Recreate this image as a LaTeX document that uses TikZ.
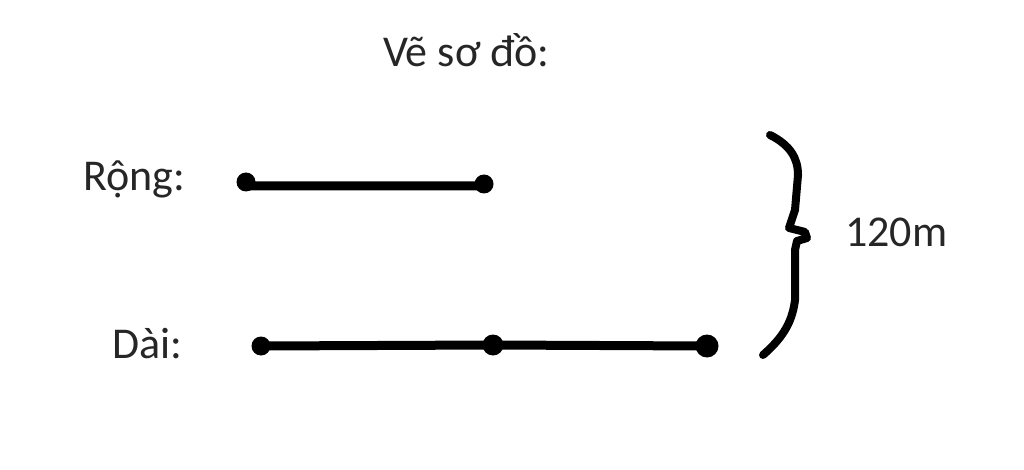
\documentclass[tikz,border=0pt]{standalone}
\usepackage{fontspec}
\setmainfont{Carlito}
\begin{document}
\begin{tikzpicture}[x=1pt,y=-1pt,
  lbl/.style={anchor=base west,inner sep=0pt,font=\fontsize{44}{50}\selectfont,text=black!85},
  seg/.style={line width=9pt},
  dotmark/.style={circle,fill=black,inner sep=0pt,minimum size=#1},
  bracepath/.style={line width=8pt,line cap=round,line join=round}]
\useasboundingbox (0,0) rectangle (1024,470);
\node[lbl] (title) at (383,67) {Vẽ sơ đồ:};
\node[lbl] (rong) at (83,191) {Rộng:};
\node[lbl] (dai) at (112,358) {Dài:};
\node[lbl] (len) at (845,246) {120m};
% Rong segment
\node[dotmark=19pt] (r1) at (246,182) {};
\node[dotmark=19pt] (r2) at (484,184) {};
\draw[seg] (r1.center) -- (250,186) -- (480,186) -- (r2.center);
% Dai segment
\node[dotmark=19pt] (d1) at (261,346) {};
\node[dotmark=21pt] (d2) at (493,345) {};
\node[dotmark=23pt] (d3) at (707,346) {};
\draw[seg] (d1.center) -- (d2.center) -- (d3.center);
% brace
\draw[bracepath] (770,135) .. controls (790,145) and (798,158) .. (798,175)
  -- (795,210) -- (789,228) -- (805,232) -- (807,238) -- (797,241)
  -- (795,250) -- (795,300) .. controls (792,325) and (780,340) .. (763,355);
\end{tikzpicture}
\end{document}
